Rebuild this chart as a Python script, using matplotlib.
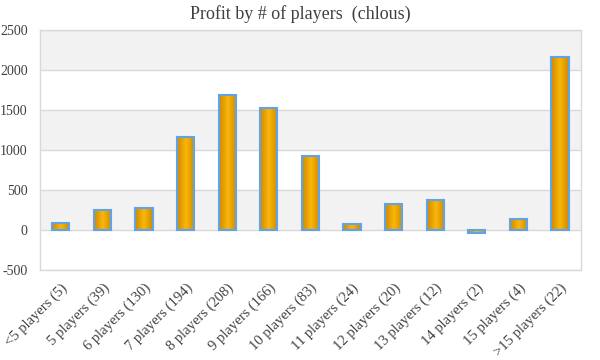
import matplotlib
matplotlib.use("Agg")
import matplotlib.pyplot as plt
import numpy as np
from matplotlib.colors import LinearSegmentedColormap

categories = ["<5 players (5)", "5 players (39)", "6 players (130)", "7 players (194)",
              "8 players (208)", "9 players (166)", "10 players (83)", "11 players (24)",
              "12 players (20)", "13 players (12)", "14 players (2)", "15 players (4)",
              ">15 players (22)"]
profit = [85, 246, 271, 1158, 1683, 1529, 921, 71, 321, 371, -38, 133, 2167]
yticks = [-500, 0, 500, 1000, 1500, 2000, 2500]

plt.rcParams['font.family'] = ['Liberation Serif', 'DejaVu Serif']
fig = plt.figure(figsize=(6, 3.6), dpi=100)
ax = fig.add_axes([0.0667, 0.25, 0.9013, 0.6667])

x = np.arange(len(categories))

# alternating bands
for i in range(len(yticks) - 1):
    if i % 2 == 1:
        ax.axhspan(yticks[i], yticks[i + 1], color="#f2f2f2", zorder=0, lw=0)
for t in yticks:
    ax.axhline(t, color="#d9d9d9", lw=1, zorder=1)

bars = ax.bar(x, profit, width=0.41, facecolor="none", edgecolor="#5fa3e8", linewidth=1.5, zorder=4)

cmap = LinearSegmentedColormap.from_list("g", ["#d38800", "#f8b80a", "#d38800"])
grad = np.linspace(0, 1, 64).reshape(1, -1)
for b in bars:
    x0, y0 = b.get_x(), b.get_y()
    w, h = b.get_width(), b.get_height()
    ylo, yhi = min(y0, y0 + h), max(y0, y0 + h)
    ax.imshow(grad, extent=[x0, x0 + w, ylo, yhi], aspect="auto", cmap=cmap,
              interpolation="bicubic", zorder=3)
ax.set_xlim(-0.5, len(categories) - 0.5)
ax.set_ylim(-500, 2500)

ax.set_yticks(yticks)
ax.set_yticklabels([str(t) for t in yticks], fontsize=10, color="#404040")
ax.set_xticks(x)
ax.set_xticklabels(categories, rotation=45, ha="right", rotation_mode="anchor",
                   fontsize=10.5, color="#404040")
ax.tick_params(axis="both", length=0)
ax.tick_params(axis="y", pad=9)
ax.tick_params(axis="x", pad=8)
for s in ax.spines.values():
    s.set_color("#d9d9d9")
    s.set_linewidth(1)

fig.text(0.5, 0.962, "Profit by # of players  (chlous)", ha="center", va="center",
         fontsize=13, color="#404040")

fig.savefig("out.png", dpi=100)
